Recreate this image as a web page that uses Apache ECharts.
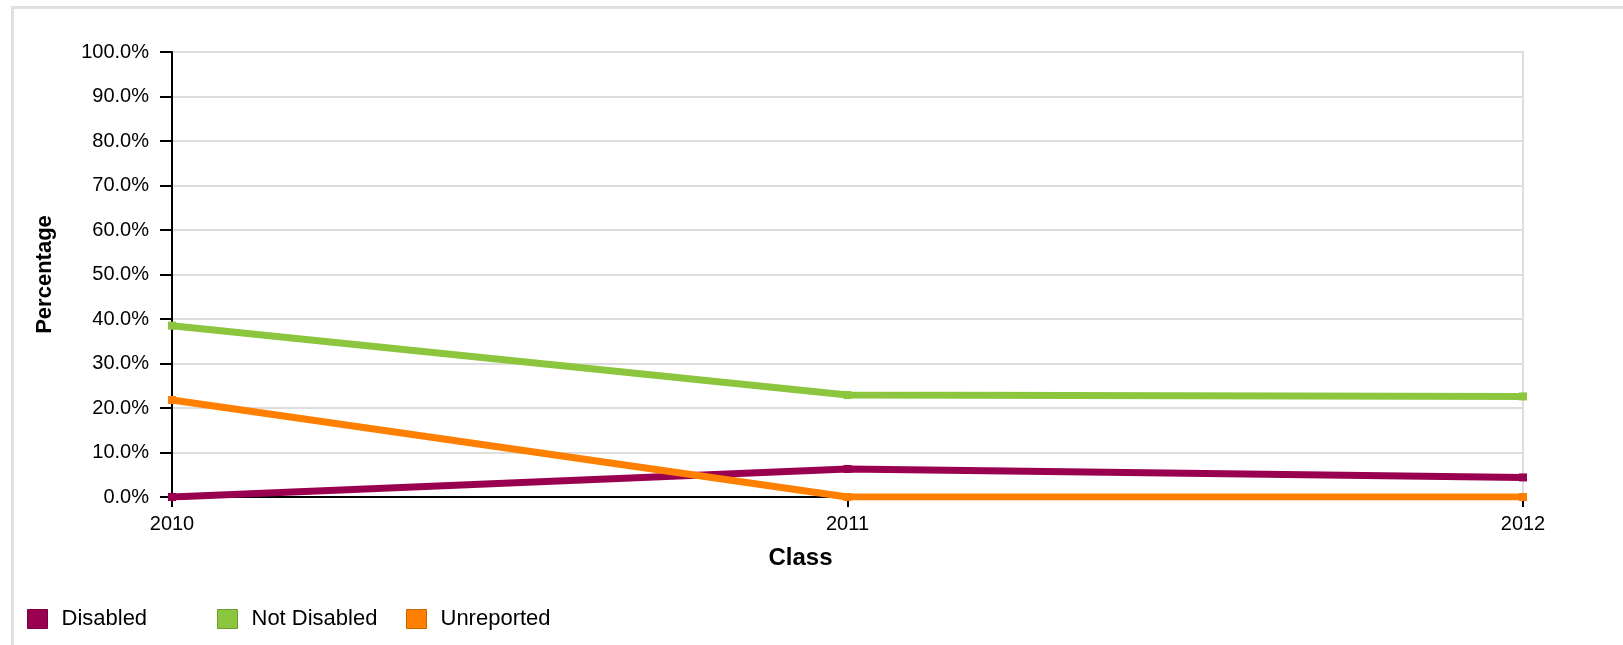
<!DOCTYPE html>
<html>
<head>
<meta charset="utf-8">
<script src="https://cdn.jsdelivr.net/npm/echarts@6/dist/echarts.min.js"></script>
<style>
html,body{margin:0;padding:0;background:#fff;}
#chart{width:1623px;height:645px;}
</style>
</head>
<body>
<div id="chart"></div>
<script>
const categories = ['2010', '2011', '2012'];
const disabled = [0.0, 6.3, 4.4];
const notDisabled = [38.5, 22.9, 22.6];
const unreported = [21.8, 0.0, 0.0];
const seriesNames = ['Disabled', 'Not Disabled', 'Unreported'];
const colors = ['#990050', '#8cc63f', '#ff8000'];

const font = 'Liberation Sans, Arial, sans-serif';
const chart = echarts.init(document.getElementById('chart'));

function legendFor(i, left) {
  return {
    data: [{name: seriesNames[i], icon: 'rect', itemStyle: {borderColor: i === 1 ? '#6f9c30' : (i === 2 ? '#c86400' : '#7a0040'), borderWidth: 1}}],
    left: left, top: 603,
    itemWidth: 20, itemHeight: 19, itemGap: 0,
    selectedMode: false,
    textStyle: {fontFamily: font, fontSize: 22, color: '#000', padding: [i === 2 ? 4 : 1, 0, 0, 9]}
  };
}

const seriesData = [disabled, notDisabled, unreported];

chart.setOption({
  animation: false,
  backgroundColor: '#fff',
  graphic: [{
    type: 'rect', left: 10, top: 5,
    shape: {width: 1700, height: 700},
    style: {fill: 'none', stroke: '#e0e0e0', lineWidth: 3},
    z: -1
  }],
  grid: {left: 172, right: 100, top: 52, bottom: 148, show: true, borderColor: '#dddddd', borderWidth: 2, backgroundColor: 'transparent'},
  legend: [legendFor(0, 22), legendFor(1, 212), legendFor(2, 401)],
  xAxis: {
    type: 'category', data: categories, boundaryGap: false,
    name: 'Class', nameLocation: 'middle', nameGap: 49,
    nameTextStyle: {fontFamily: font, fontSize: 24, fontWeight: 'bold', color: '#000', padding: [0, 94, 0, 0]},
    axisLine: {lineStyle: {color: '#000', width: 2}},
    axisTick: {show: true, length: 10, lineStyle: {color: '#000', width: 2}, alignWithLabel: true},
    axisLabel: {fontFamily: font, fontSize: 20, color: '#000', margin: 17},
    splitLine: {show: false}
  },
  yAxis: {
    type: 'value', min: 0, max: 100, interval: 10,
    name: 'Percentage', nameLocation: 'middle', nameGap: 116,
    nameTextStyle: {fontFamily: font, fontSize: 22, fontWeight: 'bold', color: '#000'},
    axisLine: {show: true, lineStyle: {color: '#000', width: 2}},
    axisTick: {show: true, length: 12, lineStyle: {color: '#000', width: 2}},
    axisLabel: {fontFamily: font, fontSize: 20, color: '#000', margin: 23, formatter: v => v.toFixed(1) + '%'},
    splitLine: {show: true, lineStyle: {color: '#dddddd', width: 2}}
  },
  series: seriesNames.map((n, i) => ({
    name: n, type: 'line', data: seriesData[i],
    color: colors[i],
    lineStyle: {width: 7, color: colors[i]},
    symbol: 'rect', symbolSize: 8, showSymbol: true,
    itemStyle: {color: colors[i]},
    z: 3 + i
  }))
});
</script>
</body>
</html>
